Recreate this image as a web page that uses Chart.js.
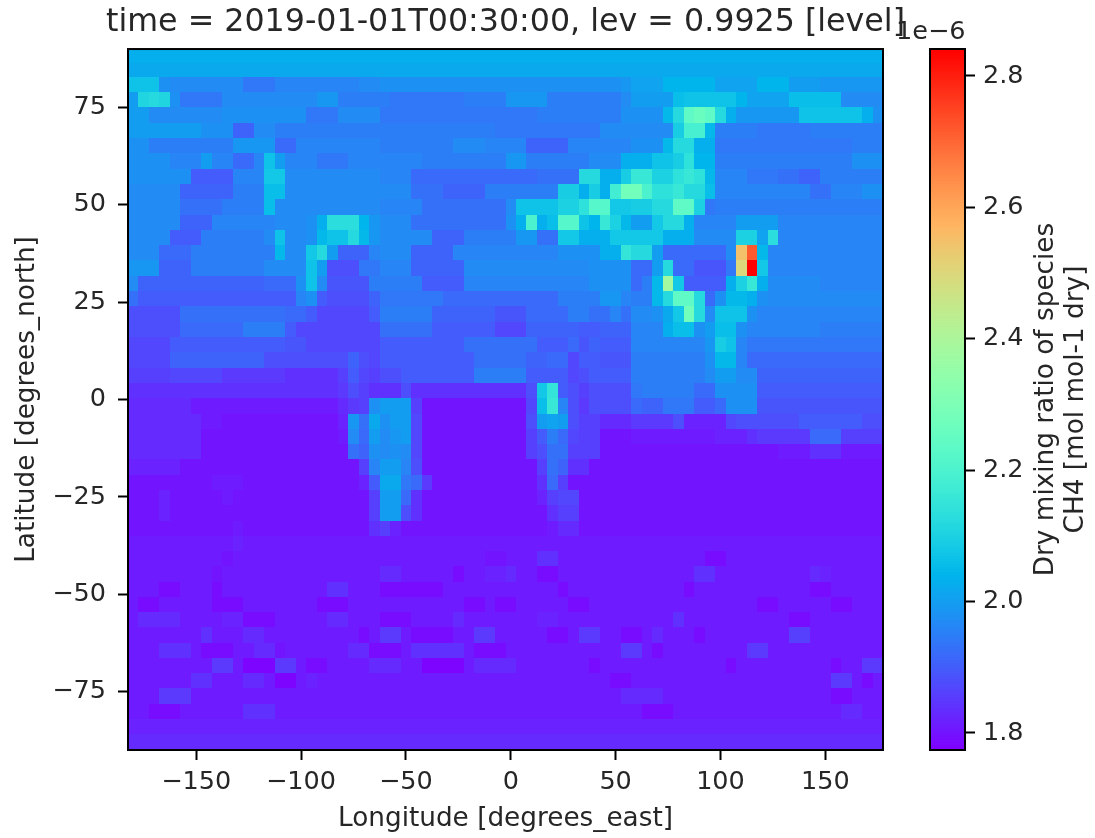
<!DOCTYPE html>
<html>
<head>
<meta charset="utf-8">
<title>CH4 dry mixing ratio</title>
<script src="https://cdn.jsdelivr.net/npm/chart.js@4/dist/chart.umd.js"></script>
<style>
  html, body { margin: 0; padding: 0; background: #fff; }
  #wrap { position: relative; width: 1095px; height: 838px; overflow: hidden; }
  canvas { position: absolute; top: 0; }
  #mapChart { left: 0; }
  #barChart { left: 890px; }
</style>
</head>
<body>
<div id="wrap">
  <canvas id="mapChart" width="1011" height="838"></canvas>
  <canvas id="barChart" width="205" height="838"></canvas>
</div>
<script>
// ---- data ----
const titleText = "time = 2019-01-01T00:30:00, lev = 0.9925 [level]";
const xLabel = "Longitude [degrees_east]";
const yLabel = "Latitude [degrees_north]";
const barLabel = ["Dry mixing ratio of species", "CH4 [mol mol-1 dry]"];
const barExponent = "1e\u22126";

const lonTicks = [-150, -100, -50, 0, 50, 100, 150];
const latTicks = [-75, -50, -25, 0, 25, 50, 75];
const barTicks = [1.8, 2.0, 2.2, 2.4, 2.6, 2.8];

// grid cell centres (west to east)
const lons = [-180, -175, -170, -165, -160, -155, -150, -145, -140, -135, -130, -125,
  -120, -115, -110, -105, -100, -95, -90, -85, -80, -75, -70, -65,
  -60, -55, -50, -45, -40, -35, -30, -25, -20, -15, -10, -5,
  0, 5, 10, 15, 20, 25, 30, 35, 40, 45, 50, 55,
  60, 65, 70, 75, 80, 85, 90, 95, 100, 105, 110, 115,
  120, 125, 130, 135, 140, 145, 150, 155, 160, 165, 170, 175];

// row edges (north to south)
const latEdges = [90, 86.4, 82.8, 78.9, 75, 71, 67.1, 63.2, 59.3, 55.3, 51.4, 47.5, 43.6, 39.6, 35.7, 31.8,
  27.9, 23.9, 20, 16.1, 12.2, 8.2, 4.3, 0.4, -3.6, -7.5, -11.4, -15.4, -19.3, -23.2, -27.1, -31.1,
  -35, -38.9, -42.8, -46.8, -50.7, -54.6, -58.5, -62.5, -66.4, -70.3, -74.2, -78.2, -82.1, -86, -90];

// CH4 in 1e-8 mol/mol, one line per latitude row, north first
const ch4Rows = [
[203,203,203,203,203,203,203,203,203,203,203,203, 203,203,203,203,203,203,203,203,203,203,203,203, 203,203,203,203,203,203,203,203,203,203,203,203, 203,203,203,203,203,203,203,203,203,203,203,203, 203,203,203,203,203,203,203,203,203,203,203,203, 203,203,203,203,203,203,203,203,203,203,203,203],
[202,202,202,202,202,202,202,202,202,202,202,202, 202,202,202,202,202,202,202,202,202,202,202,202, 202,202,202,202,202,202,202,202,202,202,202,202, 202,202,202,202,202,202,202,202,202,202,202,202, 202,202,202,202,202,202,202,202,202,202,202,202, 202,202,202,202,202,202,202,202,202,202,202,202],
[207,207,207,198,197,197,197,197,197,197,197,194, 194,194,196,196,196,196,196,196,196,196,197,197, 198,198,198,198,198,198,198,198,198,198,198,198, 198,198,198,198,198,198,198,198,198,198,198,199, 201,201,201,204,204,204,204,204,201,201,201,201, 204,204,204,200,200,200,199,199,199,199,199,199],
[200,211,212,211,198,194,194,194,194,197,197,197, 197,197,197,197,197,197,199,199,195,195,195,195, 195,194,194,194,194,194,194,194,195,195,195,195, 199,199,199,199,195,195,195,195,195,195,195,197, 200,200,200,200,206,207,207,207,207,207,204,201, 201,201,201,206,206,206,206,206,197,197,197,197],
[200,200,197,197,197,197,197,197,197,198,198,198, 198,198,198,198,198,194,194,194,197,197,197,197, 194,194,194,194,194,194,194,194,194,194,194,194, 194,194,194,195,195,195,195,195,195,195,195,198, 198,198,198,205,212,224,226,224,212,203,199,199, 199,199,199,199,207,207,207,207,207,207,203,198],
[200,200,200,200,200,200,200,198,198,198,191,191, 197,197,195,195,195,195,195,195,195,195,195,195, 195,195,195,195,195,195,195,195,195,195,195,194, 194,194,194,194,194,194,194,194,194,197,197,197, 197,197,197,197,209,219,219,205,195,195,195,195, 194,194,194,194,194,195,195,195,195,195,195,195],
[198,198,195,195,195,195,195,195,195,195,199,199, 199,199,192,192,196,196,196,196,196,196,196,196, 195,195,195,195,195,195,195,197,197,197,196,196, 196,196,191,191,191,191,196,196,196,196,196,196, 198,198,198,205,212,212,203,203,194,194,194,194, 194,194,194,194,194,194,194,194,194,195,195,195],
[198,198,198,198,196,196,196,200,196,196,192,192, 196,207,200,196,196,196,194,194,194,196,196,196, 196,196,196,196,195,195,195,195,195,195,195,195, 199,199,195,195,195,195,195,195,197,197,197,203, 203,203,207,207,209,214,204,204,195,195,195,195, 195,195,195,195,195,195,195,195,195,198,198,198],
[198,198,198,198,198,198,190,190,190,190,196,196, 196,208,208,197,197,197,197,197,197,197,197,197, 196,196,196,192,192,192,192,192,192,192,192,192, 192,192,192,193,193,193,193,212,212,203,203,209, 216,216,210,210,214,216,214,205,196,196,196,194, 194,194,193,193,191,191,195,195,195,195,195,195],
[197,197,197,197,197,191,191,191,191,191,195,195, 195,206,206,197,197,197,197,197,197,197,197,197, 197,197,197,193,193,193,191,191,191,191,195,195, 195,195,195,195,195,209,209,203,209,203,218,228, 228,220,214,214,216,212,212,206,196,196,196,196, 196,196,196,196,196,193,193,196,196,196,198,198],
[197,197,197,197,197,193,193,193,193,195,195,195, 195,206,197,197,197,197,197,197,197,197,197,197, 196,196,196,196,193,193,193,193,193,193,193,193, 197,207,207,207,207,210,210,214,222,222,208,208, 209,209,212,212,224,224,210,194,195,195,195,195, 195,195,195,195,195,195,195,195,195,195,195,195],
[197,197,197,197,197,191,191,191,196,196,196,196, 196,196,197,197,197,198,203,213,213,213,204,199, 197,197,197,193,193,193,193,193,193,193,193,193, 198,203,220,203,206,222,222,207,204,216,210,205, 200,200,208,212,212,203,196,196,196,196,200,200, 200,200,196,196,196,196,196,196,196,196,196,196],
[197,197,197,197,190,190,190,195,195,195,195,195, 195,197,207,197,197,198,205,207,207,212,205,199, 197,197,197,197,197,191,191,191,195,195,195,195, 195,199,199,193,193,208,208,203,203,203,208,208, 208,208,208,203,203,203,197,197,197,197,210,210, 201,213,196,196,196,196,196,196,196,196,196,196],
[197,197,197,192,192,192,195,195,195,195,195,195, 195,195,205,197,197,208,212,200,191,191,191,196, 197,197,197,191,191,191,191,196,196,196,196,196, 196,196,196,196,196,198,198,198,198,203,203,215, 212,212,200,192,192,192,192,192,192,197,255,272, 205,196,196,196,196,196,196,196,196,196,196,196],
[199,199,199,191,191,191,195,195,195,195,195,195, 195,197,197,197,197,207,200,188,188,188,194,194, 196,196,196,191,191,191,191,191,197,197,197,197, 197,197,197,197,197,197,197,197,198,198,198,198, 192,192,200,212,192,192,189,189,189,194,250,284, 208,196,196,196,196,196,196,196,196,196,196,196],
[197,191,191,191,191,191,191,191,191,191,191,191, 191,192,192,192,198,207,197,189,189,189,189,195, 195,195,195,195,190,190,190,190,196,196,196,196, 196,196,196,196,196,196,196,196,198,198,198,198, 192,195,205,238,208,190,190,190,190,203,210,216, 203,197,197,197,197,197,196,196,196,196,196,196],
[193,190,190,190,190,190,190,190,190,190,190,190, 190,190,190,190,196,198,190,188,188,188,188,191, 194,194,194,194,194,194,192,192,192,192,192,192, 192,192,192,192,192,195,195,195,195,199,199,196, 195,195,205,212,224,224,212,192,198,205,205,203, 198,197,197,197,197,197,197,197,197,197,197,197],
[188,188,188,188,188,193,193,193,193,193,193,193, 193,193,193,192,192,190,187,187,187,187,187,190, 195,195,195,195,195,191,191,191,191,191,191,189, 189,189,192,192,192,192,195,195,193,193,196,193, 197,197,198,202,208,228,212,197,207,207,207,198, 196,196,196,196,196,196,196,196,196,196,196,196],
[188,188,188,188,188,192,192,192,192,192,192,195, 195,195,195,190,187,187,187,187,187,187,187,187, 193,193,193,193,193,190,190,190,190,190,190,187, 187,187,191,191,191,191,191,190,190,191,191,191, 196,196,196,203,206,206,198,200,206,206,198,196, 196,196,196,196,196,196,195,195,195,195,195,195],
[187,187,187,187,190,190,190,190,190,190,190,190, 190,190,190,189,189,187,187,187,187,187,187,187, 190,190,190,190,190,190,190,190,193,193,193,193, 193,193,193,190,190,190,192,189,191,190,190,190, 196,196,196,196,196,196,196,199,209,207,196,194, 194,194,194,194,194,194,194,194,194,194,194,194],
[187,187,187,187,191,191,191,191,191,191,191,191, 191,188,188,188,188,188,188,188,188,191,188,187, 190,190,190,190,190,190,190,190,190,193,193,193, 193,193,191,191,192,192,187,190,190,189,189,189, 195,195,195,195,195,195,195,198,205,205,196,192, 192,192,192,192,192,192,192,192,192,192,192,192],
[186,186,186,186,187,187,187,187,187,185,185,185, 185,185,185,184,184,184,184,184,186,190,187,186, 188,188,190,190,190,190,190,190,190,195,195,195, 195,195,190,190,190,190,187,188,190,190,190,190, 195,195,195,195,195,195,195,197,200,200,197,197, 191,191,191,191,191,191,191,191,191,191,191,191],
[184,184,184,184,184,184,184,184,184,184,184,184, 184,184,184,184,184,184,184,184,185,188,186,184, 184,184,188,184,184,184,184,184,184,184,184,184, 184,184,188,208,215,190,188,186,188,188,188,188, 194,195,195,195,195,195,192,192,198,198,198,198, 190,190,190,190,190,190,190,190,190,190,190,190],
[183,183,183,183,183,183,181,181,181,181,181,181, 181,181,181,181,181,181,181,181,183,185,186,198, 200,200,200,186,180,180,180,180,180,180,180,180, 180,180,187,206,216,196,188,185,188,188,188,188, 192,191,191,194,194,194,190,190,192,198,198,198, 189,189,189,189,189,189,189,189,189,189,189,189],
[183,183,183,183,183,183,183,181,181,180,180,180, 180,180,180,180,180,180,180,180,182,199,193,202, 198,200,200,187,180,180,180,180,180,180,180,180, 180,180,188,200,201,200,188,186,186,183,183,183, 185,185,185,185,188,182,182,182,182,187,188,188, 188,188,188,188,190,190,190,190,190,190,188,188],
[183,183,183,183,183,183,183,180,180,180,180,180, 180,180,180,180,180,180,180,180,181,197,192,200, 197,199,200,187,180,180,180,180,180,180,180,180, 180,180,186,190,195,192,187,186,186,180,180,180, 181,181,181,181,181,181,181,181,182,182,182,184, 185,185,185,185,185,192,192,192,186,186,186,186],
[183,183,183,183,183,183,183,180,180,180,180,180, 180,180,180,180,180,180,180,180,180,193,191,198, 197,198,197,187,180,180,180,180,180,180,180,180, 180,180,186,188,193,193,186,186,186,180,180,180, 180,180,180,180,180,180,180,180,180,180,180,180, 180,180,181,181,181,184,184,184,181,181,181,181],
[182,182,182,182,182,180,180,180,180,180,180,180, 180,180,180,180,180,180,180,180,180,180,186,196, 200,200,196,188,180,180,180,180,180,180,180,180, 180,180,180,186,193,191,184,184,180,180,180,180, 180,180,180,180,180,180,180,180,180,180,180,180, 180,180,180,180,180,180,180,180,180,180,180,180],
[180,180,180,180,180,180,180,180,181,181,181,180, 180,180,180,180,180,180,180,180,180,180,182,190, 202,202,194,192,185,180,180,180,180,180,180,180, 180,180,180,184,192,186,180,180,180,180,180,180, 180,180,180,180,180,180,180,180,180,180,180,180, 180,180,180,180,180,180,180,180,180,180,180,180],
[180,180,180,182,180,180,180,180,180,181,180,180, 180,180,180,180,180,180,180,180,180,180,180,186, 200,200,192,184,180,180,180,180,180,180,180,180, 180,180,180,182,186,187,187,180,180,180,180,180, 180,180,180,180,180,180,180,180,180,180,180,180, 180,180,180,180,180,180,180,180,180,180,180,180],
[180,180,180,182,180,180,180,180,180,180,180,180, 180,180,180,180,180,180,180,180,180,180,180,186, 200,200,188,184,180,180,180,180,180,180,180,180, 180,180,180,180,184,186,186,180,180,180,180,180, 180,180,180,180,180,180,180,180,180,180,180,180, 180,180,180,180,180,180,180,180,180,180,180,180],
[180,180,180,180,180,180,180,180,180,180,181,180, 180,180,180,180,180,180,180,180,180,180,180,184, 186,182,180,180,180,180,180,180,180,180,180,180, 180,180,180,180,181,183,183,180,180,180,180,180, 180,180,180,180,180,180,180,180,180,180,180,180, 180,180,180,180,180,180,180,180,180,180,180,180],
[181,181,181,181,181,181,181,181,181,181,182,181, 181,181,181,181,181,181,181,181,181,181,181,181, 181,181,181,181,181,181,181,181,181,181,181,181, 181,181,181,181,181,181,181,181,181,181,181,181, 181,181,181,181,181,181,181,181,181,181,181,181, 181,181,181,181,181,181,181,181,181,181,181,181],
[181,181,181,181,181,181,181,181,181,180,181,181, 181,181,181,181,181,181,181,181,181,181,181,181, 181,181,181,181,181,181,181,181,181,181,180,180, 181,181,181,184,184,181,181,181,181,181,181,181, 181,181,181,181,181,181,181,179,179,181,181,181, 181,181,181,181,181,181,181,181,181,181,181,181],
[181,181,181,181,181,181,181,181,180,181,181,181, 181,181,181,181,181,181,181,181,181,181,181,181, 183,183,181,181,181,181,181,179,181,181,182,182, 183,181,181,179,179,181,181,181,181,181,181,181, 181,181,181,181,181,181,184,184,181,181,181,181, 181,181,181,181,181,183,182,181,181,181,181,181],
[181,181,181,179,179,181,181,181,179,181,181,181, 181,181,181,181,181,181,181,184,184,181,181,181, 179,179,179,179,179,179,181,181,181,181,181,181, 181,181,181,181,181,179,181,181,181,181,181,181, 181,181,181,181,181,179,181,181,181,181,181,181, 181,181,181,181,181,179,179,181,181,181,181,181],
[181,179,179,181,181,181,181,181,179,179,179,181, 181,181,181,181,181,181,179,179,179,181,181,181, 181,181,181,181,181,181,181,181,179,179,181,179, 179,181,181,181,181,181,179,179,181,181,181,181, 181,181,181,181,181,181,181,181,181,181,181,181, 179,179,181,181,181,181,181,179,179,181,181,181],
[181,183,183,183,183,181,181,181,181,182,182,179, 179,179,181,181,181,181,181,183,183,181,181,181, 179,179,179,181,181,181,181,183,181,181,181,181, 181,181,181,182,182,181,181,181,181,181,181,181, 181,181,181,181,184,181,181,181,181,181,181,181, 181,181,181,179,179,181,181,181,181,181,181,181],
[181,181,181,181,181,181,181,184,181,181,181,183, 183,181,181,181,181,181,181,181,181,181,179,181, 185,185,181,179,179,179,179,181,181,185,185,181, 181,181,181,181,179,179,181,185,185,181,181,179, 179,181,183,181,181,181,179,181,181,181,181,181, 181,181,181,186,186,181,181,181,181,181,181,181],
[181,181,181,184,184,184,181,179,179,179,181,181, 183,183,180,181,181,181,181,181,181,183,183,179, 179,179,181,184,184,184,184,184,181,179,179,179, 181,181,181,181,181,181,181,181,181,181,181,185, 185,181,179,181,181,181,181,181,181,181,181,185, 185,181,181,181,181,181,181,181,181,181,181,181],
[181,181,181,181,181,181,181,181,185,185,181,178, 178,178,185,185,181,179,179,181,181,181,181,183, 183,183,181,181,178,178,178,178,181,183,183,183, 183,181,181,181,181,181,181,181,179,181,181,181, 181,181,181,181,181,181,181,181,181,179,181,181, 181,181,181,181,181,181,181,179,181,181,185,185],
[181,181,181,181,181,181,184,184,181,181,181,183, 183,181,178,178,181,182,181,181,181,181,181,181, 181,181,181,181,181,181,181,181,181,181,181,181, 181,181,181,181,181,181,181,181,181,181,179,179, 181,181,181,181,181,181,181,181,181,181,181,181, 181,181,181,181,181,181,181,185,185,181,179,181],
[181,181,181,185,185,185,181,181,181,181,181,181, 181,181,181,181,181,181,181,181,181,181,181,181, 181,181,181,181,181,181,181,181,181,181,181,181, 181,181,181,181,181,181,181,181,181,181,181,183, 183,183,183,181,181,181,181,181,181,181,181,181, 181,181,181,181,181,181,181,179,179,181,181,181],
[181,181,179,179,179,181,181,181,181,181,181,184, 184,184,181,181,181,181,181,181,181,181,181,181, 181,181,181,181,181,181,181,181,181,181,181,181, 181,181,181,181,181,181,181,181,181,181,181,181, 181,179,179,179,181,181,181,181,181,181,181,181, 181,181,181,181,181,181,181,181,183,183,181,181],
[182,182,182,182,182,182,182,182,182,182,182,182, 182,182,182,182,182,182,182,182,182,182,182,182, 182,182,182,182,182,182,182,182,182,182,182,182, 182,182,182,182,182,182,182,182,182,182,182,182, 182,182,182,182,182,182,182,182,182,182,182,182, 182,182,182,182,182,182,182,182,182,182,182,182],
[183,183,183,183,183,183,183,183,183,183,183,183, 183,183,183,183,183,183,183,183,183,183,183,183, 183,183,183,183,183,183,183,183,183,183,183,183, 183,183,183,183,183,183,183,183,183,183,183,183, 183,183,183,183,183,183,183,183,183,183,183,183, 183,183,183,183,183,183,183,183,183,183,183,183]
];

// colour limits of the colour bar
const vMin = 1.774;
const vMax = 2.841;

// ---- helpers ----
const fontName = "'DejaVu Sans'";
const inkColor = "#262626";
const tickFontSize = 25.5;
const labelFontSize = 26.3;

// matplotlib "rainbow" colormap
function rainbow(v) {
  const t = Math.min(1, Math.max(0, (v - vMin) / (vMax - vMin)));
  const r = Math.min(1, Math.abs(2 * t - 0.5));
  const g = Math.sin(Math.PI * t);
  const b = Math.cos(Math.PI * t / 2);
  return "rgb(" + Math.round(r * 255) + "," + Math.round(g * 255) + "," + Math.round(b * 255) + ")";
}

const fmtTick = (v) => String(v).replace("-", "\u2212");

// ---- map panel ----
const cells = [];
ch4Rows.forEach((row, j) => {
  if (row.length !== lons.length) console.error("row " + j + " has " + row.length + " cells");
  row.forEach((val, i) => {
    cells.push({ x: lons[i], y: (latEdges[j] + latEdges[j + 1]) / 2, v: val / 100, row: j });
  });
});

const cellPlugin = {
  id: "cells",
  beforeDatasetsDraw(chart) {
    const ctx = chart.ctx;
    const xs = chart.scales.x;
    const ys = chart.scales.y;
    ctx.save();
    cells.forEach((c) => {
      const x0 = Math.round(xs.getPixelForValue(c.x - 2.5));
      const x1 = Math.round(xs.getPixelForValue(c.x + 2.5));
      const y0 = Math.round(ys.getPixelForValue(latEdges[c.row]));
      const y1 = Math.round(ys.getPixelForValue(latEdges[c.row + 1]));
      ctx.fillStyle = rainbow(c.v);
      ctx.fillRect(x0, y0, x1 - x0, y1 - y0);
    });
    ctx.restore();
  },
  afterDatasetsDraw(chart) {
    const a = chart.chartArea;
    const ctx = chart.ctx;
    ctx.save();
    ctx.strokeStyle = "#000";
    ctx.lineWidth = 2;
    ctx.strokeRect(a.left, a.top, a.right - a.left, a.bottom - a.top);
    ctx.restore();
  },
};

new Chart(document.getElementById("mapChart"), {
  type: "scatter",
  data: { datasets: [{ label: "CH4", data: cells, pointRadius: 0, pointHoverRadius: 0 }] },
  plugins: [cellPlugin],
  options: {
    responsive: false,
    animation: false,
    plugins: {
      legend: { display: false },
      tooltip: { enabled: false },
      title: {
        display: true,
        text: titleText,
        color: inkColor,
        font: { family: fontName, size: 31.7, weight: "normal" },
        padding: { top: 4, bottom: 7 },
      },
    },
    scales: {
      x: {
        type: "linear",
        min: -182.5,
        max: 177.5,
        afterBuildTicks: (s) => { s.ticks = lonTicks.map((v) => ({ value: v })); },
        afterFit: (s) => { s.height = 88; },
        grid: { drawOnChartArea: false, tickLength: 10, tickWidth: 2, tickColor: "#000" },
        border: { display: false },
        ticks: {
          callback: fmtTick,
          color: inkColor,
          maxRotation: 0,
          padding: 7,
          font: { family: fontName, size: tickFontSize },
        },
        title: {
          display: true,
          text: xLabel,
          color: inkColor,
          font: { family: fontName, size: labelFontSize, weight: "normal" },
          padding: { top: 0, bottom: 3 },
        },
      },
      y: {
        type: "linear",
        min: -90,
        max: 90,
        afterBuildTicks: (s) => { s.ticks = latTicks.map((v) => ({ value: v })); },
        afterFit: (s) => { s.width = 128; },
        grid: { drawOnChartArea: false, tickLength: 10, tickWidth: 2, tickColor: "#000" },
        border: { display: false },
        ticks: {
          callback: fmtTick,
          color: inkColor,
          padding: 12,
          font: { family: fontName, size: tickFontSize },
        },
        title: {
          display: true,
          text: yLabel,
          color: inkColor,
          font: { family: fontName, size: labelFontSize, weight: "normal" },
          padding: { top: 11, bottom: 0 },
        },
      },
      // empty axis, keeps the plot area off centre while the title stays centred on it
      spare: {
        type: "linear",
        position: "right",
        afterFit: (s) => { s.width = 128; },
        grid: { display: false },
        border: { display: false },
        ticks: { display: false },
      },
    },
  },
});

// ---- colour bar panel ----
const barSteps = 256;
const barCells = [];
for (let k = 0; k < barSteps; k++) {
  barCells.push({ x: 0, y: vMin + (vMax - vMin) * (k + 0.5) / barSteps });
}

const barPlugin = {
  id: "colorbar",
  beforeDatasetsDraw(chart) {
    const a = chart.chartArea;
    const ys = chart.scales.y;
    const ctx = chart.ctx;
    const half = (vMax - vMin) / barSteps / 2;
    ctx.save();
    barCells.forEach((c) => {
      const y0 = ys.getPixelForValue(c.y + half);
      const y1 = ys.getPixelForValue(c.y - half);
      ctx.fillStyle = rainbow(c.y);
      ctx.fillRect(a.left, y0 - 0.5, a.right - a.left, y1 - y0 + 1);
    });
    ctx.restore();
  },
  afterDraw(chart) {
    const a = chart.chartArea;
    const ctx = chart.ctx;
    ctx.save();
    ctx.strokeStyle = "#000";
    ctx.lineWidth = 2;
    ctx.strokeRect(a.left, a.top, a.right - a.left, a.bottom - a.top);
    ctx.fillStyle = inkColor;
    ctx.font = tickFontSize + "px " + fontName;
    ctx.textBaseline = "alphabetic";
    ctx.textAlign = "left";
    ctx.fillText(barExponent, 6, 39);
    // the label reads bottom to top, chart.js only turns a right axis title the other way
    ctx.font = labelFontSize + "px " + fontName;
    ctx.translate(171, (a.top + a.bottom) / 2);
    ctx.rotate(-Math.PI / 2);
    ctx.textAlign = "center";
    ctx.textBaseline = "middle";
    ctx.fillText(barLabel[0], 0, -15);
    ctx.fillText(barLabel[1], 0, 15);
    ctx.restore();
  },
};

new Chart(document.getElementById("barChart"), {
  type: "scatter",
  data: { datasets: [{ label: "levels", data: barCells, pointRadius: 0, pointHoverRadius: 0 }] },
  plugins: [barPlugin],
  options: {
    responsive: false,
    animation: false,
    layout: { padding: { left: 40, top: 49, bottom: 88, right: 0 } },
    plugins: { legend: { display: false }, tooltip: { enabled: false } },
    scales: {
      x: { type: "linear", display: false, min: -1, max: 1 },
      y: {
        type: "linear",
        position: "right",
        min: vMin,
        max: vMax,
        afterBuildTicks: (s) => { s.ticks = barTicks.map((v) => ({ value: v })); },
        afterFit: (s) => { s.width = 130; },
        grid: { drawOnChartArea: false, tickLength: 10, tickWidth: 2, tickColor: "#000" },
        border: { display: false },
        ticks: {
          callback: (v) => Number(v).toFixed(1),
          color: inkColor,
          padding: 8,
          font: { family: fontName, size: tickFontSize },
        },
      },
    },
  },
});
</script>
</body>
</html>
